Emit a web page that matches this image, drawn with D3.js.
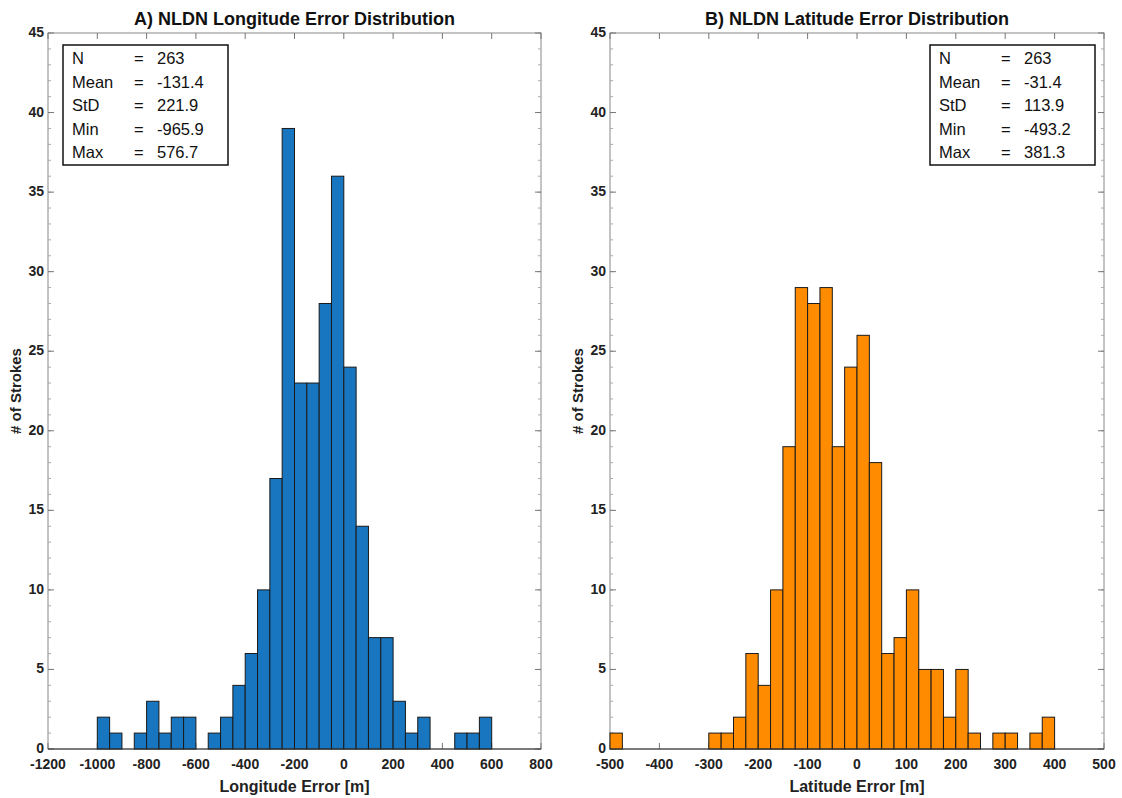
<!DOCTYPE html>
<html>
<head>
<meta charset="utf-8">
<script src="https://cdn.jsdelivr.net/npm/d3@7"></script>
<style>
  body { margin: 0; background: #fff; }
  svg text { font-family: "Liberation Sans", Arial, sans-serif; }
</style>
</head>
<body>
<div id="chart"></div>
<script>
// histogram counts
var lonStart = -1000, lonStep = 50;
var lonCounts = [2, 1, 0, 1, 3, 1, 2, 2, 0, 1, 2, 4, 6, 10, 17, 39, 23, 23, 28, 36, 24, 14, 7, 7, 3, 1, 2, 0, 0, 1, 1, 2];
var latStart = -500, latStep = 25;
var latCounts = [1, 0, 0, 0, 0, 0, 0, 0, 1, 1, 2, 6, 4, 10, 19, 29, 28, 29, 19, 24, 26, 18, 6, 7, 10, 5, 5, 2, 5, 1, 0, 1, 1, 0, 1, 2];

var lonTicks = [-1200, -1000, -800, -600, -400, -200, 0, 200, 400, 600, 800];
var latTicks = [-500, -400, -300, -200, -100, 0, 100, 200, 300, 400, 500];
var yTicks = [0, 5, 10, 15, 20, 25, 30, 35, 40, 45];

var statNames = ["N", "Mean", "StD", "Min", "Max"];
var lonStats = ["263", "-131.4", "221.9", "-965.9", "576.7"];
var latStats = ["263", "-31.4", "113.9", "-493.2", "381.3"];

var svg = d3.select("#chart").append("svg")
    .attr("width", 1122)
    .attr("height", 798);

var plotTop = 33, plotBottom = 749;

function panel(opt) {
  var x = d3.scaleLinear().domain(opt.domain).range([opt.left, opt.right]);
  var y = d3.scaleLinear().domain([0, 45]).range([plotBottom, plotTop]);

  var bins = opt.counts.map(function(c, i) {
    return {x0: opt.start + i * opt.step, x1: opt.start + (i + 1) * opt.step, n: c};
  }).filter(function(d) { return d.n > 0; });

  var g = svg.append("g");

  // box
  g.append("rect")
    .attr("x", opt.left).attr("y", plotTop)
    .attr("width", opt.right - opt.left).attr("height", plotBottom - plotTop)
    .attr("fill", "#fff").attr("stroke", "#888").attr("stroke-width", 1);

  // minor y ticks (left + right, inward)
  var minor = d3.range(0, 46);
  g.selectAll(".ym").data(minor).enter().append("line")
    .attr("x1", opt.left).attr("x2", opt.left + 3)
    .attr("y1", function(d) { return y(d); }).attr("y2", function(d) { return y(d); })
    .attr("stroke", "#aaa");
  g.selectAll(".ymr").data(minor).enter().append("line")
    .attr("x1", opt.right).attr("x2", opt.right - 3)
    .attr("y1", function(d) { return y(d); }).attr("y2", function(d) { return y(d); })
    .attr("stroke", "#aaa");

  // major ticks
  g.selectAll(".yt").data(yTicks).enter().append("line")
    .attr("x1", opt.left).attr("x2", opt.left + 6)
    .attr("y1", function(d) { return y(d); }).attr("y2", function(d) { return y(d); })
    .attr("stroke", "#777");
  g.selectAll(".ytr").data(yTicks).enter().append("line")
    .attr("x1", opt.right).attr("x2", opt.right - 6)
    .attr("y1", function(d) { return y(d); }).attr("y2", function(d) { return y(d); })
    .attr("stroke", "#777");
  g.selectAll(".xt").data(opt.ticks).enter().append("line")
    .attr("x1", function(d) { return x(d); }).attr("x2", function(d) { return x(d); })
    .attr("y1", plotBottom).attr("y2", plotBottom - 6)
    .attr("stroke", "#777");
  g.selectAll(".xtt").data(opt.ticks).enter().append("line")
    .attr("x1", function(d) { return x(d); }).attr("x2", function(d) { return x(d); })
    .attr("y1", plotTop).attr("y2", plotTop + 6)
    .attr("stroke", "#777");

  // bars
  g.selectAll(".bar").data(bins).enter().append("rect")
    .attr("x", function(d) { return x(d.x0); })
    .attr("y", function(d) { return y(d.n); })
    .attr("width", function(d) { return x(d.x1) - x(d.x0); })
    .attr("height", function(d) { return y(0) - y(d.n); })
    .attr("fill", opt.color)
    .attr("stroke", "#1a1a1a")
    .attr("stroke-width", 1);

  // baseline
  g.append("line")
    .attr("x1", opt.left).attr("x2", opt.right)
    .attr("y1", plotBottom).attr("y2", plotBottom)
    .attr("stroke", "#333");

  // tick labels
  g.selectAll(".xl").data(opt.ticks).enter().append("text")
    .attr("x", function(d) { return x(d); })
    .attr("y", plotBottom + 20)
    .attr("text-anchor", "middle")
    .attr("font-size", 14).attr("font-weight", "bold").attr("fill", "#222")
    .text(function(d) { return d; });
  g.selectAll(".yl").data(yTicks).enter().append("text")
    .attr("x", opt.left - 4)
    .attr("y", function(d) { return y(d) + 4; })
    .attr("text-anchor", "end")
    .attr("font-size", 14).attr("font-weight", "bold").attr("fill", "#222")
    .text(function(d) { return d; });

  // titles
  g.append("text")
    .attr("x", (opt.left + opt.right) / 2).attr("y", 25)
    .attr("text-anchor", "middle")
    .attr("font-size", 18).attr("font-weight", "bold").attr("fill", "#111")
    .text(opt.title);
  g.append("text")
    .attr("x", (opt.left + opt.right) / 2).attr("y", 792)
    .attr("text-anchor", "middle")
    .attr("font-size", 16).attr("font-weight", "bold").attr("fill", "#222")
    .text(opt.xlabel);
  g.append("text")
    .attr("transform", "translate(" + (opt.left - 27) + "," + ((plotTop + plotBottom) / 2) + ") rotate(-90)")
    .attr("text-anchor", "middle")
    .attr("font-size", 15).attr("font-weight", "bold").attr("fill", "#222")
    .text("# of Strokes");

  // stats box
  var bx = opt.boxX, by = 45;
  g.append("rect")
    .attr("x", bx).attr("y", by).attr("width", 165).attr("height", 120)
    .attr("fill", "#fff").attr("stroke", "#111").attr("stroke-width", 1.5);
  statNames.forEach(function(name, i) {
    var ty = by + 19 + i * 23.5;
    g.append("text").attr("x", bx + 9).attr("y", ty)
      .attr("font-family", "Lato").attr("font-size", 16.5).attr("fill", "#111").text(name);
    g.append("text").attr("x", bx + 71).attr("y", ty)
      .attr("font-family", "Lato").attr("font-size", 16.5).attr("fill", "#111").text("=");
    g.append("text").attr("x", bx + 94).attr("y", ty)
      .attr("font-family", "Lato").attr("font-size", 16.5).attr("fill", "#111").text(opt.stats[i]);
  });
}

panel({
  left: 48, right: 541, domain: [-1200, 800], ticks: lonTicks,
  start: lonStart, step: lonStep, counts: lonCounts, color: "#1776bf",
  title: "A) NLDN Longitude Error Distribution", xlabel: "Longitude Error [m]",
  stats: lonStats, boxX: 63
});

panel({
  left: 610, right: 1104, domain: [-500, 500], ticks: latTicks,
  start: latStart, step: latStep, counts: latCounts, color: "#ff8c00",
  title: "B) NLDN Latitude Error Distribution", xlabel: "Latitude Error [m]",
  stats: latStats, boxX: 930
});
</script>
</body>
</html>
